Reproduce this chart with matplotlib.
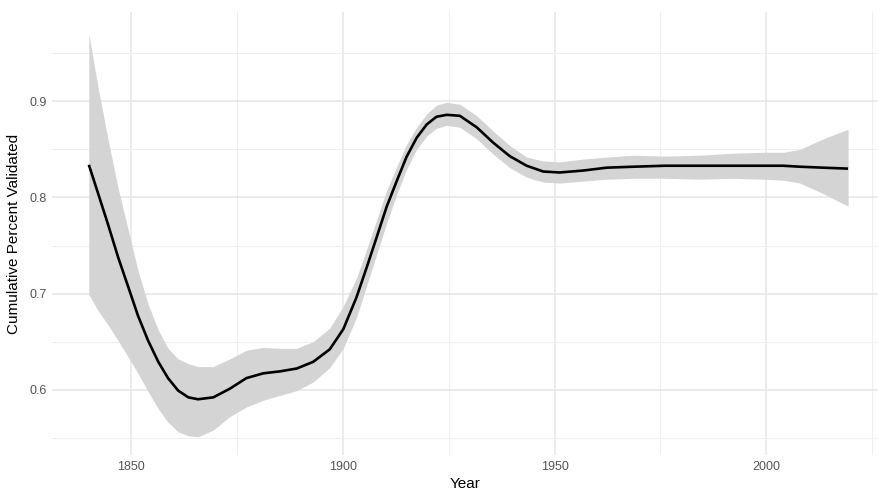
import numpy as np
import matplotlib.pyplot as plt

# values (smoothed fit + confidence band)
years = [1840, 1842.2, 1844.6, 1846.9, 1849.3, 1851.6, 1854.0, 1856.4, 1858.7, 1861.1,
         1863.5, 1865.8, 1869.4, 1873.3, 1877.2, 1881.2, 1885.1, 1889.1, 1893, 1896.9,
         1900.1, 1903.2, 1905.6, 1908.0, 1910.3, 1912.7, 1915.0, 1917.4, 1919.8, 1922.1,
         1924.5, 1927.6, 1931.6, 1935.5, 1939.4, 1943.4, 1947.3, 1951.2, 1956.7, 1962.3,
         1968.6, 1976.0, 1984.3, 1992.0, 1999.3, 2004.0, 2007.9, 2013.4, 2019.3]
fit = [0.834, 0.804, 0.771, 0.738, 0.707, 0.677, 0.651, 0.629, 0.612, 0.599,
       0.592, 0.590, 0.592, 0.601, 0.612, 0.617, 0.619, 0.622, 0.629, 0.642,
       0.663, 0.696, 0.727, 0.759, 0.790, 0.817, 0.842, 0.862, 0.876, 0.884,
       0.886, 0.885, 0.873, 0.857, 0.843, 0.833, 0.827, 0.826, 0.828, 0.831,
       0.832, 0.833, 0.833, 0.833, 0.833, 0.833, 0.832, 0.831, 0.830]
upper = [0.970, 0.914, 0.859, 0.810, 0.766, 0.724, 0.689, 0.662, 0.643, 0.632,
         0.627, 0.624, 0.624, 0.632, 0.641, 0.644, 0.643, 0.643, 0.650, 0.664,
         0.687, 0.716, 0.746, 0.777, 0.807, 0.832, 0.855, 0.873, 0.887, 0.896,
         0.899, 0.897, 0.885, 0.869, 0.854, 0.842, 0.838, 0.837, 0.840, 0.842,
         0.844, 0.843, 0.844, 0.846, 0.847, 0.847, 0.850, 0.861, 0.871]
lower = [0.699, 0.682, 0.667, 0.651, 0.634, 0.617, 0.598, 0.580, 0.566, 0.556,
         0.552, 0.551, 0.558, 0.572, 0.582, 0.589, 0.594, 0.599, 0.608, 0.623,
         0.643, 0.675, 0.708, 0.741, 0.773, 0.803, 0.829, 0.850, 0.864, 0.872,
         0.875, 0.873, 0.861, 0.845, 0.831, 0.821, 0.816, 0.815, 0.817, 0.819,
         0.820, 0.820, 0.819, 0.820, 0.819, 0.818, 0.815, 0.804, 0.791]

x_ticks = [1850, 1900, 1950, 2000]
y_ticks = [0.6, 0.7, 0.8, 0.9]

plt.rcParams['font.family'] = ['Liberation Sans', 'DejaVu Sans']

fig = plt.figure(figsize=(8.79, 4.93), dpi=100)
ax = fig.add_axes([52 / 879, 1 - 455 / 493, 1 - 52 / 879, (455 - 12) / 493])

ax.fill_between(years, lower, upper, color='#d4d4d4', linewidth=0, zorder=2)
ax.plot(years, fit, color='black', linewidth=1.9, zorder=3,
        solid_capstyle='butt', solid_joinstyle='round')

ax.set_xlim(1831.3, 2026.6)
ax.set_ylim(0.532, 0.993)
ax.set_xticks(x_ticks)
ax.set_yticks(y_ticks)
ax.set_xticks([1875, 1925, 1975, 2025], minor=True)
ax.set_yticks([0.55, 0.65, 0.75, 0.85, 0.95], minor=True)
ax.set_yticklabels([str(v) for v in y_ticks])

ax.grid(which='major', color='#e6e6e6', linewidth=1.1, zorder=0)
ax.grid(which='minor', color='#eeeeee', linewidth=0.7, zorder=0)
ax.set_axisbelow(True)
for s in ax.spines.values():
    s.set_visible(False)
ax.tick_params(which='both', length=0, labelsize=9, colors='#555555', pad=4)

ax.set_xlabel('Year', fontsize=11, color='black', labelpad=3)
ax.set_ylabel('Cumulative Percent Validated', fontsize=11, color='black', labelpad=6)

fig.savefig('out.png', dpi=100)
